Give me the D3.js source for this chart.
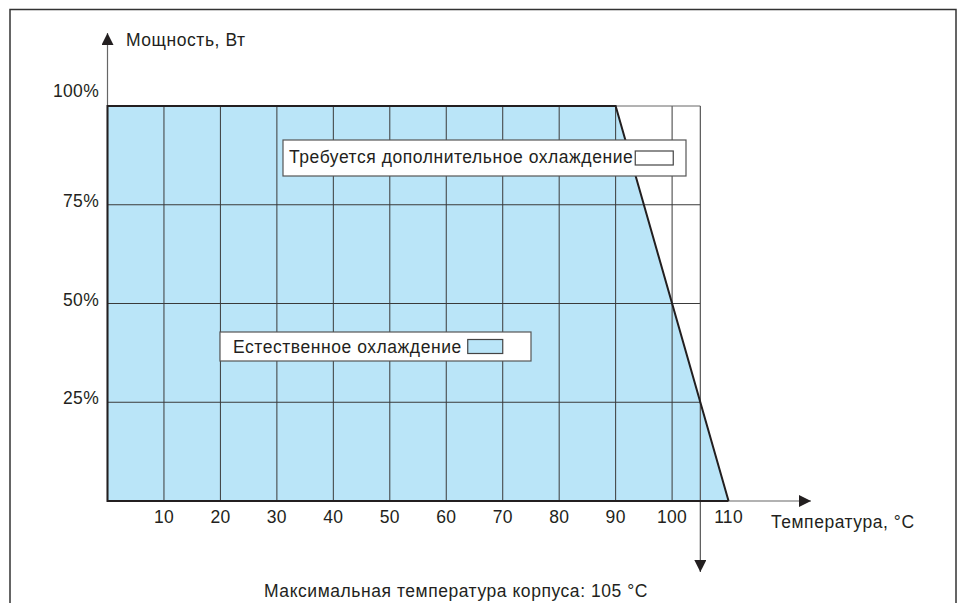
<!DOCTYPE html>
<html><head><meta charset="utf-8">
<script src="https://cdn.jsdelivr.net/npm/d3@7"></script>
<style>
html,body{margin:0;padding:0;background:#fff;}
svg text{font-family:"Liberation Sans",Arial,Helvetica,sans-serif;fill:#231f20;font-size:17.5px;letter-spacing:0.55px;}
svg text.num{letter-spacing:0.3px;}
</style></head>
<body>
<svg id="chart" width="959" height="603"></svg>
<script>
// Derating curve: power (%) vs case temperature (°C)
const temps = [0, 90, 110];
const power = [100, 100, 0];
const xTicks = [10, 20, 30, 40, 50, 60, 70, 80, 90, 100, 110];
const yTicks = [25, 50, 75, 100];
const yTickLabels = ["25%", "50%", "75%", "100%"];
const gridMaxT = 105;
const maxCaseTemp = 105;
const yTitle = "Мощность, Вт";
const xTitle = "Температура, °C";
const footNote = "Максимальная температура корпуса: 105 °С";
const legendCooled = "Требуется дополнительное охлаждение";
const legendNatural = "Естественное охлаждение";

const fillBlue = "#bae5f8";
const dark = "#231f20";
const gridCol = "#3a3a3a";

const svg = d3.select("#chart");

// outer frame
svg.append("rect").attr("x", 10).attr("y", 9.5).attr("width", 946).attr("height", 620)
  .attr("fill", "none").attr("stroke", "#333").attr("stroke-width", 1.5);

const x = d3.scaleLinear().domain([0, 100]).range([107.5, 672.1]);
const y = d3.scaleLinear().domain([0, 100]).range([501, 106]);

const defs = svg.append("defs");
defs.append("marker").attr("id", "arrBig").attr("viewBox", "0 0 10 10")
  .attr("refX", 10).attr("refY", 5).attr("markerWidth", 14).attr("markerHeight", 12)
  .attr("markerUnits", "userSpaceOnUse").attr("orient", "auto")
  .append("path").attr("d", "M0,0 L10,5 L0,10 Z").attr("fill", dark);

// safe operating area under the derating curve
const area = d3.area().x((d, i) => x(temps[i])).y0(y(0)).y1((d, i) => y(power[i]));
svg.append("path").datum(temps).attr("d", area).attr("fill", fillBlue);

// grid
const g = svg.append("g").attr("stroke", gridCol).attr("stroke-width", 1).attr("fill", "none");
xTicks.filter(t => t < gridMaxT).forEach(t => {
  g.append("line").attr("x1", x(t)).attr("x2", x(t)).attr("y1", y(0)).attr("y2", y(100));
});
yTicks.forEach(t => {
  g.append("line").attr("x1", x(0)).attr("x2", x(gridMaxT)).attr("y1", y(t)).attr("y2", y(t))
    .attr("stroke", t === 100 ? "#666" : gridCol);
});

// maximum case temperature line with arrow
svg.append("line").attr("x1", x(maxCaseTemp)).attr("x2", x(maxCaseTemp))
  .attr("y1", y(100)).attr("y2", 572).attr("stroke", "#555").attr("stroke-width", 1.2)
  .attr("marker-end", "url(#arrBig)");

// axes
svg.append("line").attr("x1", x(0)).attr("x2", x(0)).attr("y1", y(0)).attr("y2", 33)
  .attr("stroke", "#666").attr("stroke-width", 1.2).attr("marker-end", "url(#arrBig)");
svg.append("line").attr("x1", x(0)).attr("x2", 811).attr("y1", y(0)).attr("y2", y(0))
  .attr("stroke", "#666").attr("stroke-width", 1.2).attr("marker-end", "url(#arrBig)");

// outline of the safe operating area
const outlinePts = [[temps[2], power[2]], [temps[0], 0], [temps[0], power[0]], [temps[1], power[1]], [temps[2], power[2]]];
svg.append("path")
  .attr("d", d3.line().x(d => x(d[0])).y(d => y(d[1]))(outlinePts))
  .attr("fill", "none").attr("stroke", dark).attr("stroke-width", 2).attr("stroke-linejoin", "miter");

// tick labels
svg.append("g").selectAll("text").data(xTicks).join("text").attr("class", "num")
  .attr("x", d => x(d)).attr("y", y(0) + 22).attr("text-anchor", "middle").text(d => d);
svg.append("g").selectAll("text").data(yTicks).join("text").attr("class", "num")
  .attr("x", 99).attr("y", d => y(d) + (d === 100 ? -9.5 : 2))
  .attr("text-anchor", "end").text((d, i) => yTickLabels[i]);

// axis titles and footnote
svg.append("text").attr("x", 126).attr("y", 46).text(yTitle);
svg.append("text").attr("x", 771).attr("y", 528).text(xTitle);
svg.append("text").attr("x", 456).attr("y", 597).attr("text-anchor", "middle").text(footNote);

// legend boxes
function legendBox(x0, y0, w, h, pad, baseline, gap, label, swatchFill, sw) {
  const lg = svg.append("g");
  lg.append("rect").attr("x", x0).attr("y", y0).attr("width", w).attr("height", h)
    .attr("fill", "#fff").attr("stroke", "#555").attr("stroke-width", 1.2);
  const t = lg.append("text").attr("x", x0 + pad).attr("y", baseline).text(label);
  const tw = t.node().getComputedTextLength();
  lg.append("rect").attr("x", x0 + pad + tw + gap).attr("y", y0 + h / 2 - 7).attr("width", sw).attr("height", 14)
    .attr("fill", swatchFill).attr("stroke", "#444").attr("stroke-width", 1.2);
}
legendBox(283, 140, 403, 36, 6, 163, 2, legendCooled, "#fff", 38);
legendBox(220, 332, 311, 29, 13, 353, 6, legendNatural, fillBlue, 35);
</script>
</body></html>
